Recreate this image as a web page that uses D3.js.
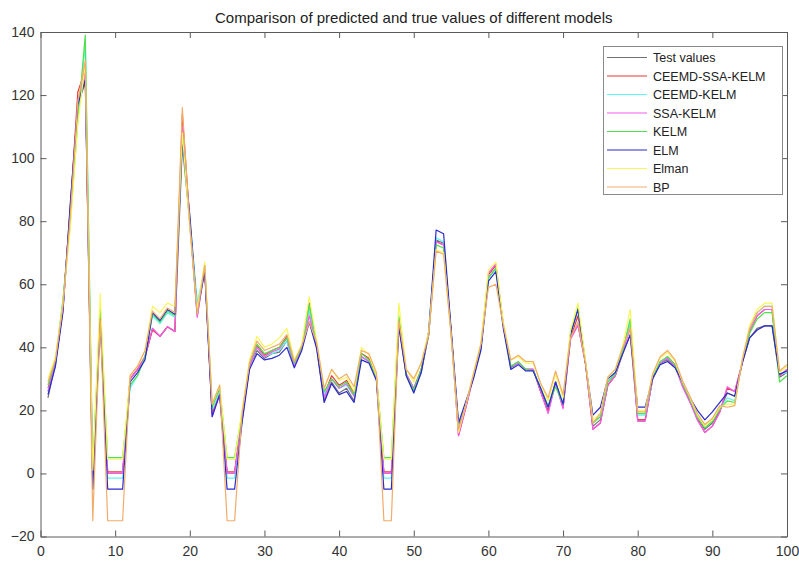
<!DOCTYPE html>
<html>
<head>
<meta charset="utf-8">
<script src="https://cdn.jsdelivr.net/npm/d3@7"></script>
<style>
html,body{margin:0;padding:0;background:#fff;}
svg{display:block;font-family:"Liberation Sans",Arial,Helvetica,sans-serif;}
</style>
</head>
<body>
<svg id="chart" width="799" height="561"></svg>
<script>
const titleText = "Comparison of predicted and true values of different models";
const xTicks = [0,10,20,30,40,50,60,70,80,90,100];
const yTicks = [-20,0,20,40,60,80,100,120,140];
const seriesNames = ["Test values","CEEMD-SSA-KELM","CEEMD-KELM","SSA-KELM","KELM","ELM","Elman","BP"];
const seriesColors = ["#707070","#e8383a","#5ff5f5","#f55cf0","#4fe04f","#2a2ad0","#f7f75a","#f2ac6a"];

const testValues = [24,35,52,85,117,124,-5,49,0,0,0,30,33,37,46,43.5,46.5,45,104,80,
50,65,19,25,0,0,17,34,39,36.5,38,38.5,42,34,40,54,40,23,29,25.5,
27,23,37,35.5,30,0,0,47,31,26,32,44,74,73,45,15,22,31,40,62,
65,47,33.5,35,33,33,26,20,29,21,43,47,35,15,17,28,31,38,44,17,
17,30,35,36,34,28,23,17.5,14,16,20,25.5,24.5,35,43,46,46.8,46.8,30.5,32];
const ceemdSsaKelm = [27,35,53,84,121,128,0,50,0.5,0.5,0.5,30,33,37,45.5,43.5,46.5,45,114,80,
51,65,19,26,0.5,0.5,18,34,40.5,37.5,39,40,43.5,35,40,52,40.5,25,31,28,
29.5,25.5,38,36.5,31,0.5,0.5,48,31.5,27,33,44,73.5,72.5,45,12,21,31,40,63,
66,47,34,35,33,33,26,19.5,29,21,43,50,35,14,16,28,31,39,48,17,
17,30,35,37,34.5,28,23,17,13,15,19.5,27,26,35,45,50,52,52,31,33];
const ceemdKelm = [26,34,54,82,112,136,-2,52,-1.5,-1.5,-1.5,27,31,37,50,47.5,51,49.5,106,81,
54.5,64.5,20,26,-1.5,-1.5,17,34,40,37,38,39,42,34.5,40,52,40.5,25,30,27,
28,24.5,37,35.5,30,-1.5,-1.5,49,31.5,27,33,45,74.7,73.5,45,14,22,31,40,62,
65,47,34,35,33,33,27,21,29,22,44,52,35.5,16,18,29,32,39,48,18.5,
18.5,30,35,37,34,28.5,23.5,18,14.5,16.5,20.5,24,23,35.5,46,51,53,53,31.5,32];
const ssaKelm = [26,35,52,83,118,127,-3,50,0,0,0,30,33,37,46,43.5,46.5,45,110,79,
49.5,65,18,25,0,0,17,34,40,37,38.5,39.5,43,34,39.5,50,40,24,30,27,
28.5,24.5,37,35.5,30,0,0,47.5,31.5,27,33,44,73.5,72.5,45,12,21,30.5,40,63.5,
66.5,47,34,35,33,33,26,19,28.5,20.5,42.5,47,35,14,16,28,31,38.5,46,16.5,
16.5,30,35,36.5,34,27.5,22.5,17,13,15,19.5,27.5,26,35,45,50,52,52,31,33];
const kelm = [28,36,55,80,112,139,2,52,5,5,5,28,31,37,50.5,48,51.5,50,107.5,79,
51,66,21,27,5,5,19,35,41,38,39,40,43,35,40,53.5,41,26,30,27.5,
29,25,38,36,30.5,5,5,50,31,26.5,33,44,72.5,71.5,45,14,22,31,40.5,62,
65,47,34,35.5,33,32.5,27,21.5,27.5,22,44.5,52.5,35.5,16,18,29,31.5,39,49,19,
19,30.5,35.5,37,34.5,28.5,23.5,18,14.5,16.5,20.5,23,22.5,35.5,44.5,49,51,51,29,31];
const elm = [25,34,51,86,117,125,-5,49,-5,-5,-5,29,32,36,51,48.5,52,50.5,106,82,
51.5,64,18,25,-5,-5,16,33,38,36,36.5,37.5,40,33.5,39,48,39.5,22.5,28.5,25,
26,22.5,36,35,29.5,-5,-5,46.5,31,25.5,32,45,77.2,76,46,16,23,30,39,61,
64,46,33,34.5,32.5,32.5,27,21,29,22,44,52,35,18.5,21,30,32,38,44,21,
21,30,34.5,35.5,33.5,29,24,20,17,19.5,22.5,25.5,24.5,35,43,45.5,46.8,46.8,31.5,32.5];
const elman = [30,37,54,78,111,130,1,57,4.5,4.5,4.5,31,34,39,53,51,54,53,108,78,
52,67,22,28,4.5,4.5,20,36,43.5,40,41,43,46,36,41,56,42,27,33,29.5,
30.5,26,40,37.5,31,4.5,4.5,54,33,29,35,45,71,70,44,13,22,32,41.5,64.5,
67,48,36,37,35,35,28.5,23,31.5,24,45.5,54,36,17,19,30.5,33,40.5,52,20,
20,31.5,36.5,38.5,35.5,29,24,18.5,15,17,21,22,22,36,47,52,54,54,32,34];
const bp = [29,36,53,82,118,131,-15,49,-15,-15,-15,31,34,39,51.5,49,52.5,51,116,79,
50.5,66,22,28,-15,-15,19,35,42,39,40,41,44,35.5,40.5,48,41.5,27,33,30,
31.5,27.5,39,38,32,-15,-15,48.5,33,30,35,44,70.5,69.5,44,14,22,31.5,41,59,
60,47,36,37.5,35.5,35.5,28.5,24,32.5,25,43,48,35,16,19,30.5,33,40,46,19.5,
19.5,31.5,37,39,36,29.5,24.5,19,15.5,17.5,21.5,21,21.5,36,46,51,53,53,32.5,34.5];

const allSeries = [testValues, ceemdSsaKelm, ceemdKelm, ssaKelm, kelm, elm, elman, bp];

const svg = d3.select("#chart");
const margin = {left:40.5, right:12, top:32, bottom:24.5};
const W = 799, H = 561;
const x = d3.scaleLinear().domain([0,100]).range([margin.left, W - margin.right]);
const y = d3.scaleLinear().domain([-20,140]).range([H - margin.bottom, margin.top]);
const axisColor = "#5a5a5a";
const textColor = "#333";

// lines
const line = d3.line().x((d,i)=>x(i+1)).y(d=>y(d));
const g = svg.append("g");
allSeries.forEach((s,k)=>{
  g.append("path").datum(s)
    .attr("fill","none")
    .attr("stroke",seriesColors[k])
    .attr("stroke-width",1.2)
    .attr("stroke-linejoin","round")
    .attr("d",line);
});

// axes (MATLAB box style, ticks inside)
const tickLen = 6;
svg.append("g").attr("transform",`translate(0,${y(-20)})`)
  .call(d3.axisBottom(x).tickValues(xTicks).tickSizeInner(-tickLen).tickSizeOuter(0).tickPadding(10))
  .call(a=>{a.select(".domain").attr("stroke",axisColor);a.selectAll("line").attr("stroke",axisColor);
    a.selectAll("text").attr("fill",textColor).style("font-size","14px").style("font-family","'Liberation Sans',Arial,sans-serif");});
svg.append("g").attr("transform",`translate(0,${y(140)})`)
  .call(d3.axisTop(x).tickValues(xTicks).tickSizeInner(-tickLen).tickSizeOuter(0).tickFormat(""))
  .call(a=>{a.select(".domain").attr("stroke",axisColor);a.selectAll("line").attr("stroke",axisColor);});
svg.append("g").attr("transform",`translate(${x(0)},0)`)
  .call(d3.axisLeft(y).tickValues(yTicks).tickSizeInner(-tickLen).tickSizeOuter(0).tickPadding(6))
  .call(a=>{a.select(".domain").attr("stroke",axisColor);a.selectAll("line").attr("stroke",axisColor);
    a.selectAll("text").attr("fill",textColor).style("font-size","14px").style("font-family","'Liberation Sans',Arial,sans-serif");});
svg.append("g").attr("transform",`translate(${x(100)},0)`)
  .call(d3.axisRight(y).tickValues(yTicks).tickSizeInner(-tickLen).tickSizeOuter(0).tickFormat(""))
  .call(a=>{a.select(".domain").attr("stroke",axisColor);a.selectAll("line").attr("stroke",axisColor);});

// title
svg.append("text").attr("x",(x(0)+x(100))/2).attr("y",23)
  .attr("text-anchor","middle").attr("fill","#222").style("font-size","15px")
  .text(titleText);

// legend
const lg = svg.append("g");
lg.append("rect").attr("x",603.5).attr("y",46.5).attr("width",179).attr("height",148)
  .attr("fill","#fff").attr("stroke","#8a8a8a").attr("stroke-width",1);
seriesNames.forEach((n,k)=>{
  const yy = 57.5 + k*18.5;
  lg.append("line").attr("x1",607).attr("x2",647).attr("y1",yy).attr("y2",yy)
    .attr("stroke",seriesColors[k]).attr("stroke-width",1.2);
  lg.append("text").attr("x",653).attr("y",yy+4.5).attr("fill","#222")
    .style("font-size","12.5px").text(n);
});
</script>
</body>
</html>
